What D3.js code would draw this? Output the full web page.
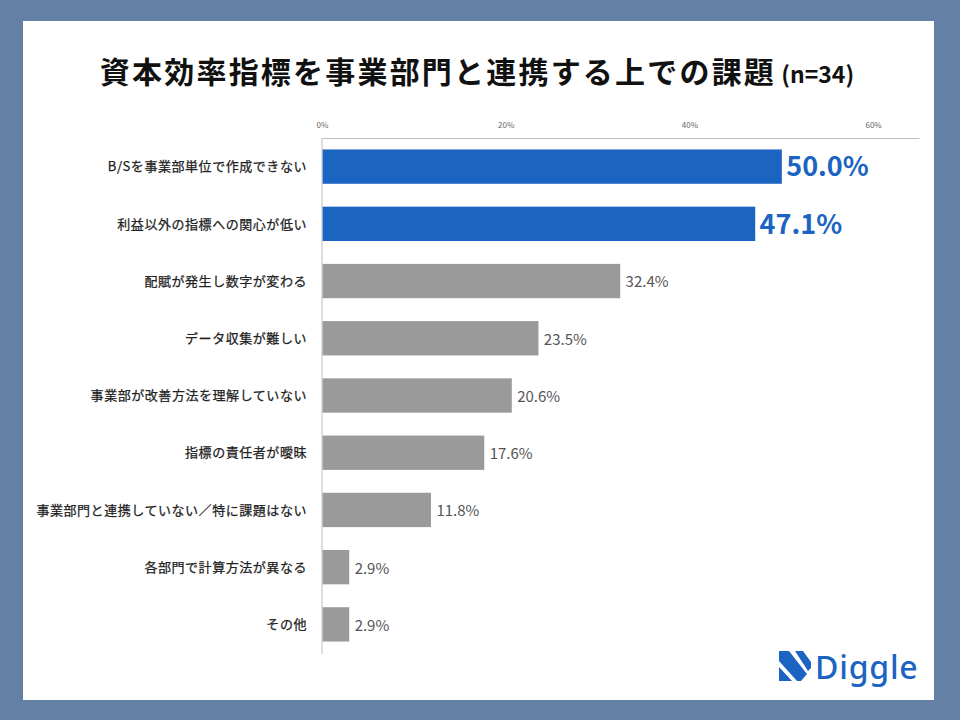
<!DOCTYPE html>
<html>
<head>
<meta charset="utf-8">
<script src="https://cdn.jsdelivr.net/npm/d3@7"></script>
<style>
  html, body { margin: 0; padding: 0; background: #6480a5; }
  svg { display: block; }
</style>
</head>
<body>
<script>
// data
const categories = [
    'B/Sを事業部単位で作成できない',
    '利益以外の指標への関心が低い',
    '配賦が発生し数字が変わる',
    'データ収集が難しい',
    '事業部が改善方法を理解していない',
    '指標の責任者が曖昧',
    '事業部門と連携していない／特に課題はない',
    '各部門で計算方法が異なる',
    'その他',
];
const values = [50.0, 47.1, 32.4, 23.5, 20.6, 17.6, 11.8, 2.9, 2.9];
const highlighted = [true, true, false, false, false, false, false, false, false];
const tickValues = [0, 20, 40, 60];

const W = 960, H = 720;
const jp = '"Noto Sans CJK JP", "Noto Sans", sans-serif';
const blue = '#1c64c2';
const grey = '#9a9a9a';

const svg = d3.select('body').append('svg')
    .attr('width', W)
    .attr('height', H);

// frame
svg.append('rect').attr('width', W).attr('height', H).attr('fill', '#6480a5');
svg.append('rect')
    .attr('x', 23).attr('y', 21)
    .attr('width', 911).attr('height', 679)
    .attr('fill', '#ffffff');

// title
const title = svg.append('text')
    .attr('x', 477).attr('y', 83)
    .attr('text-anchor', 'middle')
    .style('font-family', jp)
    .style('font-weight', 700)
    .style('fill', '#111');
title.append('tspan')
    .style('font-size', '30px')
    .style('letter-spacing', '2.2px')
    .text('資本効率指標を事業部門と連携する上での課題');
title.append('tspan')
    .style('font-size', '23px')
    .text(' (n=34)');

const x = d3.scaleLinear().domain([0, 65]).range([322, 919]);
const y = d3.scaleBand().domain(categories).range([138, 653]).paddingInner(0.4).paddingOuter(0.2);

// top axis
const axis = svg.append('g')
    .attr('transform', 'translate(0,138)')
    .call(d3.axisTop(x).tickValues(tickValues).tickFormat(d => d + '%').tickSize(0).tickPadding(10));
axis.select('.domain').attr('stroke', '#bfbfbf').attr('stroke-width', 1.2);
axis.selectAll('text')
    .style('font-family', jp)
    .style('font-size', '8px')
    .style('fill', '#666');

// left baseline
svg.append('line')
    .attr('x1', x(0)).attr('x2', x(0))
    .attr('y1', 138).attr('y2', 654)
    .attr('stroke', '#c8c8c8').attr('stroke-width', 1.2);

const rows = categories.map((c, i) => ({ cat: c, value: values[i], hi: highlighted[i] }));

svg.append('g').selectAll('rect')
    .data(rows)
    .join('rect')
    .attr('x', x(0) + 0.6)
    .attr('y', d => y(d.cat))
    .attr('width', d => x(d.value) - x(0))
    .attr('height', y.bandwidth())
    .attr('fill', d => d.hi ? blue : grey);

// category labels
svg.append('g').selectAll('text')
    .data(rows)
    .join('text')
    .attr('x', 307)
    .attr('y', d => y(d.cat) + y.bandwidth() / 2)
    .attr('dy', '0.36em')
    .attr('text-anchor', 'end')
    .style('font-family', jp)
    .style('font-size', '13px')
    .style('letter-spacing', '0.55px')
    .style('fill', '#222')
    .style('stroke', '#222')
    .style('stroke-width', 0.25)
    .text(d => d.cat);

// value labels
svg.append('g').selectAll('text')
    .data(rows)
    .join('text')
    .attr('x', d => x(d.value) + (d.hi ? 5 : 6))
    .attr('y', d => y(d.cat) + y.bandwidth() / 2 + (d.hi ? 0 : 1))
    .attr('dy', '0.36em')
    .style('font-family', jp)
    .style('font-size', d => d.hi ? '27px' : '15px')
    .style('font-weight', d => d.hi ? 700 : 400)
    .style('fill', d => d.hi ? blue : '#555')
    .text(d => d.value.toFixed(1) + '%');

// Diggle logo
const logo = svg.append('g').attr('fill', blue);
logo.append('path').attr('d', 'M779,651 L789,651 L807,674 L801,681 L797,681 L779,661 Z');
logo.append('path').attr('d', 'M795,651 L803,651 L811,662 L811,668 L808,671 Z');
logo.append('path').attr('d', 'M779,667 L792,681 L779,681 Z');
logo.append('text')
    .attr('x', 815).attr('y', 679)
    .style('font-family', '"Noto Sans", sans-serif')
    .style('font-size', '32px')
    .style('font-weight', 500)
    .style('letter-spacing', '0.8px')
    .style('fill', blue)
    .text('Diggle');
</script>
</body>
</html>
